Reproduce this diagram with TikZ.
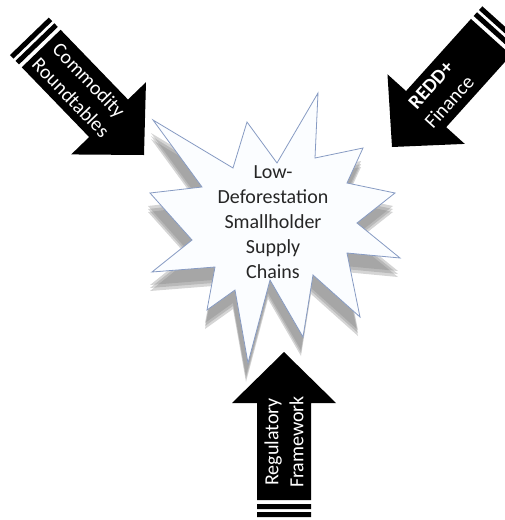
\documentclass[tikz,border=0pt]{standalone}
\usepackage{fontspec}
\setmainfont{Carlito}
\usetikzlibrary{calc}

\tikzset{
  blockarrow/.style={fill=black},
  arrowtext/.style={text=white, align=center, inner sep=0pt, font=\fontsize{20}{25}\selectfont},
  startext/.style={text=black!85, align=center, inner sep=0pt, font=\fontsize{20}{25}\selectfont},
  burst/.style={draw={rgb,255:red,135;green,155;blue,195}, line width=0.8pt, fill={rgb,255:red,251;green,253;blue,255}},
  burstshadow/.style={fill=black!50, opacity=0.33},
}

% outline of the explosion shape
\newcommand{\burstpath}{(153,-120) -- (233,-168) -- (247,-122) -- (277,-163) -- (318,-93) -- (315,-158)
  -- (363,-148) -- (347,-183) -- (395,-193) -- (357,-223) -- (400,-258) -- (347,-253)
  -- (360,-317) -- (313,-275) -- (303,-337) -- (270,-280) -- (248,-363) -- (235,-290)
  -- (207,-310) -- (215,-267) -- (152,-272) -- (192,-240) -- (150,-193) -- (202,-187) -- cycle}

\begin{document}
\begin{tikzpicture}[x=1pt,y=1pt]
  \useasboundingbox (0,0) rectangle (505,-520);

  % shadow and star
  \foreach \d in {13,16,19}{
    \fill[burstshadow, shift={(-2,-\d)}] \burstpath;
  }
  \draw[burst] \burstpath;
  \node[startext] (chains) at (273,-222) {Low-\\Deforestation\\Smallholder\\Supply\\Chains};

  % striped block arrows
  \foreach \tx/\ty/\ang/\s/\nm/\rot/\txt in {144/-155/-46/92/commodity/0/{Commodity\\Roundtables},
      392/-147/228/72/redd/180/{\textbf{REDD+}\\Finance},
      284/-352/90/90/regulatory/0/{Regulatory\\Framework}}{
    \begin{scope}[shift={(\tx,\ty)}, rotate=\ang, transform shape]
      \fill[blockarrow] (0,0) -- (-51,52) -- (-51,27) -- (-148,27) -- (-148,-27) -- (-51,-27) -- (-51,-52) -- cycle;
      \fill[blockarrow] (-152,-27) rectangle (-157,27) (-160,-27) rectangle (-165,27);
      \node[arrowtext, rotate=\rot] (\nm) at (-\s,0) {\txt};
    \end{scope}
  }
\end{tikzpicture}
\end{document}
